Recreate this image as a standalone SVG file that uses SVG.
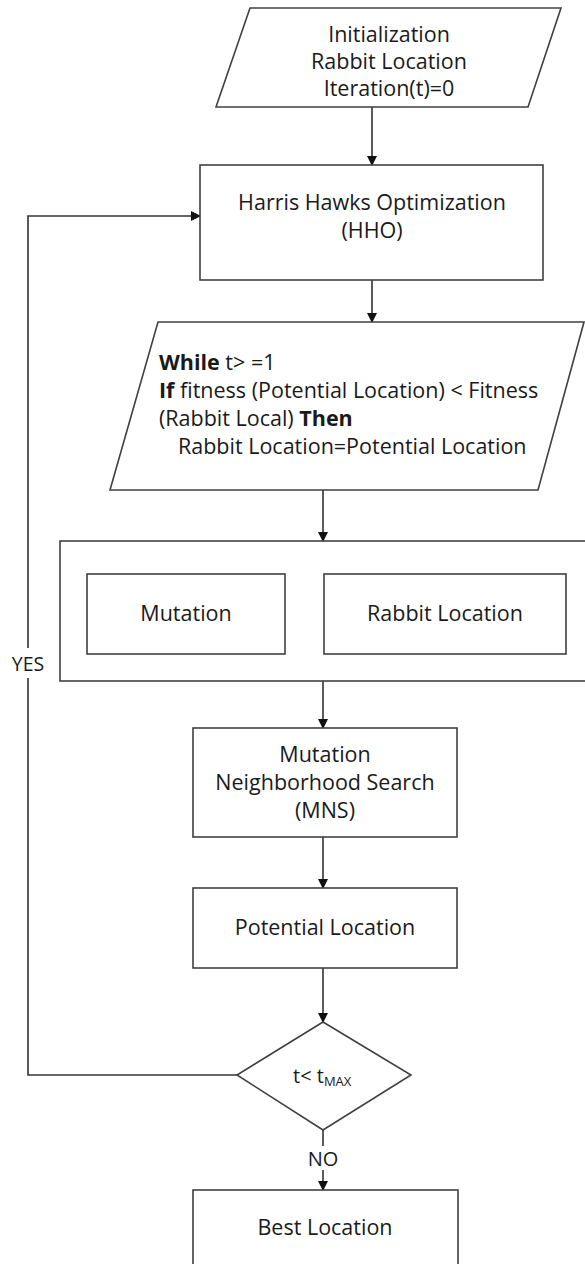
<svg xmlns="http://www.w3.org/2000/svg" width="585" height="1264" viewBox="0 0 585 1264">
<style>
.s{fill:#fff;stroke:#404040;stroke-width:1.6}
.c{fill:none;stroke:#333;stroke-width:1.6}
text{font-family:"Open Sans","Noto Sans","Liberation Sans",sans-serif;font-size:21.5px;fill:#1a1a1a}
.m{text-anchor:middle}
.b{font-weight:bold}
</style>
<defs>
<marker id="ah" markerWidth="10" markerHeight="10" refX="9" refY="5" orient="auto" markerUnits="userSpaceOnUse">
<path d="M0,0 L10,5 L0,10 z" fill="#111"/>
</marker>
</defs>
<rect width="585" height="1264" fill="#fff"/>
<g id="connectors">
<line class="c" x1="372" y1="107" x2="372" y2="165" marker-end="url(#ah)"/>
<line class="c" x1="372" y1="280" x2="372" y2="322" marker-end="url(#ah)"/>
<line class="c" x1="323" y1="490" x2="323" y2="541" marker-end="url(#ah)"/>
<line class="c" x1="323" y1="681" x2="323" y2="728" marker-end="url(#ah)"/>
<line class="c" x1="323" y1="837" x2="323" y2="888" marker-end="url(#ah)"/>
<line class="c" x1="323" y1="968" x2="323" y2="1022" marker-end="url(#ah)"/>
<polyline class="c" points="237,1075 28,1075 28,678"/>
<polyline class="c" points="28,648 28,216 200,216" marker-end="url(#ah)"/>
<text x="28" y="671" class="m" style="font-size:19.5px">YES</text>
<line class="c" x1="323" y1="1130" x2="323" y2="1146"/>
<line class="c" x1="323" y1="1170" x2="323" y2="1190" marker-end="url(#ah)"/>
<text x="323" y="1166" class="m" style="font-size:20px">NO</text>
</g>
<g id="init">
<polygon class="s" points="250,8 561,8 528,107 216,107"/>
<text x="389" y="42" class="m">Initialization</text>
<text x="389" y="69" class="m">Rabbit Location</text>
<text x="389" y="96" class="m">Iteration(t)=0</text>
</g>
<g id="hho">
<rect class="s" x="200" y="165" width="343" height="115"/>
<text x="372" y="210" class="m">Harris Hawks Optimization</text>
<text x="372" y="238" class="m">(HHO)</text>
</g>
<g id="while">
<polygon class="s" points="158,322 584,322 538,490 110,490"/>
<text x="159" y="370"><tspan class="b">While</tspan> t&gt; =1</text>
<text x="159" y="398"><tspan class="b">If</tspan> fitness (Potential Location) &lt; Fitness</text>
<text x="159" y="426">(Rabbit Local) <tspan class="b">Then</tspan></text>
<text x="178" y="454">Rabbit Location=Potential Location</text>
</g>
<g id="container">
<rect class="s" x="60" y="541" width="530" height="140"/>
</g>
<g id="mutation">
<rect class="s" x="87" y="574" width="198" height="80"/>
<text x="186" y="621" class="m">Mutation</text>
</g>
<g id="rabbit">
<rect class="s" x="324" y="574" width="242" height="80"/>
<text x="445" y="621" class="m">Rabbit Location</text>
</g>
<g id="mns">
<rect class="s" x="193" y="728" width="264" height="109"/>
<text x="325" y="762" class="m">Mutation</text>
<text x="325" y="790" class="m">Neighborhood Search</text>
<text x="325" y="818" class="m">(MNS)</text>
</g>
<g id="potential">
<rect class="s" x="193" y="888" width="264" height="80"/>
<text x="325" y="935" class="m">Potential Location</text>
</g>
<g id="decision">
<polygon class="s" points="323,1022 411,1075 323,1130 237,1075"/>
<text x="293" y="1083" style="font-size:20px">t&lt; t<tspan style="font-size:13px" dy="3">MAX</tspan></text>
</g>
<g id="best">
<rect class="s" x="193" y="1190" width="265" height="90"/>
<text x="325" y="1235" class="m">Best Location</text>
</g>
</svg>
